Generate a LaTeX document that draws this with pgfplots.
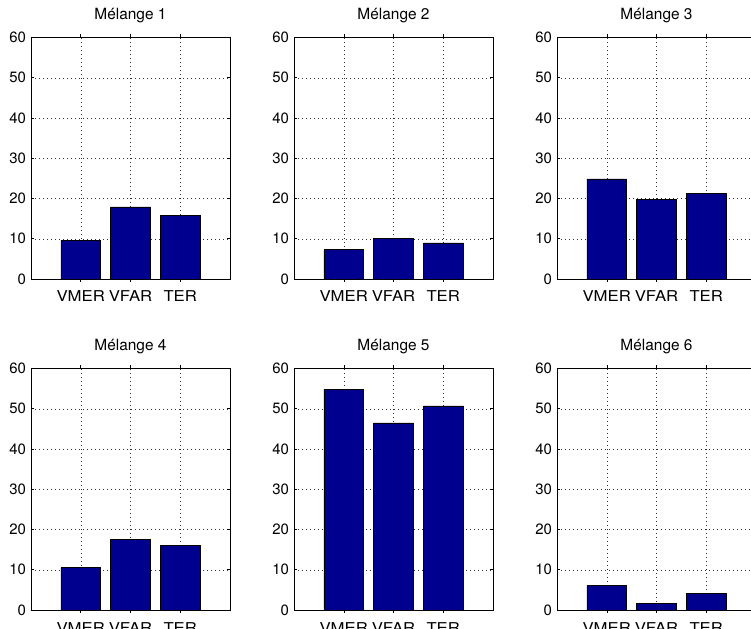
\documentclass[border=0pt]{standalone}
\usepackage{fontspec}
\setmainfont{TeX Gyre Heros}
\newfontfamily\xlabfont[FakeStretch=1.12]{TeX Gyre Heros}
\usepackage{pgfplots}
\pgfplotsset{compat=1.18}
\definecolor{barblue}{RGB}{0,0,143}
\pgfplotsset{mlab/.style={
  scale only axis, width=199bp, height=241.5bp,
  anchor=south west,
  xmin=0, xmax=4, ymin=0, ymax=60,
  xtick={1,2,3}, xticklabels={VMER,VFAR,TER},
  ytick={0,10,...,60},
  tick align=inside, tick pos=both, major tick length=3bp,
  grid=major, grid style={black!80, line width=0.45bp, dash pattern=on 0.6bp off 3.4bp},
  axis line style={line width=0.8bp},
  every tick/.style={black, line width=0.5bp},
  tick label style={font=\fontsize{15}{18}\selectfont},
  xticklabel style={font=\xlabfont\fontsize{15}{18}\selectfont, anchor=base, yshift=-20bp},
  yticklabel style={xshift=-1.5bp},
  title style={font=\fontsize{15.5}{18}\selectfont, at={(0.5,1)}, anchor=base, yshift=12bp},
  /pgf/number format/assume math mode=true,
  ybar, bar width=0.8,
}}
\begin{document}
\begin{tikzpicture}
\path[use as bounding box] (0,0) rectangle (751bp,629bp);
\begin{axis}[mlab, at={(31bp,350bp)}, title={Mélange 1}]
\addplot[fill=barblue, draw=black, line width=0.5bp] coordinates {(1,9.6) (2,17.9) (3,15.8)};
\end{axis}
\begin{axis}[mlab, at={(294bp,350bp)}, title={Mélange 2}]
\addplot[fill=barblue, draw=black, line width=0.5bp] coordinates {(1,7.3) (2,10.0) (3,9.0)};
\end{axis}
\begin{axis}[mlab, at={(557bp,350bp)}, title={Mélange 3}]
\addplot[fill=barblue, draw=black, line width=0.5bp] coordinates {(1,24.9) (2,19.75) (3,21.3)};
\end{axis}
\begin{axis}[mlab, at={(31bp,19bp)}, title={Mélange 4}]
\addplot[fill=barblue, draw=black, line width=0.5bp] coordinates {(1,10.55) (2,17.5) (3,16.1)};
\end{axis}
\begin{axis}[mlab, at={(294bp,19bp)}, title={Mélange 5}]
\addplot[fill=barblue, draw=black, line width=0.5bp] coordinates {(1,54.85) (2,46.5) (3,50.7)};
\end{axis}
\begin{axis}[mlab, at={(557bp,19bp)}, title={Mélange 6}]
\addplot[fill=barblue, draw=black, line width=0.5bp] coordinates {(1,6.07) (2,1.66) (3,4.07)};
\end{axis}
\end{tikzpicture}
\end{document}
